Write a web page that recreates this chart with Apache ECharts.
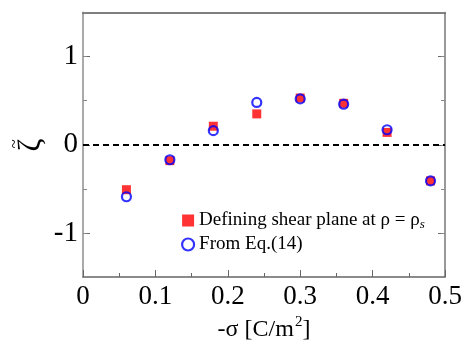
<!DOCTYPE html>
<html>
<head>
<meta charset="utf-8">
<script src="https://cdn.jsdelivr.net/npm/echarts@6/dist/echarts.min.js"></script>
<style>
html,body{margin:0;padding:0;background:#fff;}
#c{width:464px;height:348px;}
</style>
</head>
<body>
<div id="c"></div>
<script>
var sigma = [0.06, 0.12, 0.18, 0.24, 0.30, 0.36, 0.42, 0.48];
var zetaShear = [-0.51, -0.18, 0.21, 0.35, 0.53, 0.47, 0.14, -0.41];
var zetaEq14 = [-0.59, -0.17, 0.16, 0.48, 0.52, 0.46, 0.17, -0.41];
var yMajorTicks = [-1, 0, 1];
var seriesNames = ['Defining shear plane at ρ = ρs', 'From Eq.(14)'];

var FONT = '"Liberation Serif", "Times New Roman", serif';
var chart = echarts.init(document.getElementById('c'), null, {renderer: 'canvas'});

function pairs(xs, ys) { return xs.map(function (x, i) { return [x, ys[i]]; }); }

var yBase = {
  type: 'value', min: -1.5, max: 1.5, interval: 0.5,
  splitLine: {show: false}
};

var option = {
  animation: false,
  backgroundColor: '#fff',
  grid: {left: 83, right: 19, top: 12.5, bottom: 71, show: false, containLabel: false, outerBoundsMode: 'none'},
  graphic: [{
    type: 'group', x: 32, y: 145, rotation: Math.PI / 2,
    children: [
      {type: 'text', x: 0, y: 0, style: {text: 'ζ', fill: '#000', font: '31px ' + FONT, align: 'center', verticalAlign: 'middle'}},
      {type: 'text', x: 1, y: -17, style: {text: '~', fill: '#000', font: '17px ' + FONT, align: 'center', verticalAlign: 'middle'}}
    ]
  }],
  xAxis: [
    {
      type: 'value', min: 0, max: 0.5, interval: 0.1, position: 'bottom',
      splitLine: {show: false},
      axisLine: {show: true, onZero: false, lineStyle: {color: '#666', width: 1.5}},
      axisTick: {show: true, inside: true, length: 7, lineStyle: {color: '#666', width: 1}},
      minorTick: {show: true, splitNumber: 2, length: 4, lineStyle: {color: '#666', width: 1}},
      axisLabel: {color: '#000', fontFamily: FONT, fontSize: 27, margin: 6,
        formatter: function (v) { return String(Math.round(v * 10) / 10); }},
      name: '-σ [C/m{sup|2}]',
      nameLocation: 'middle', nameGap: 38,
      nameTextStyle: {color: '#000', fontFamily: FONT, fontSize: 24,
        rich: {sup: {fontFamily: FONT, fontSize: 15, verticalAlign: 'top', padding: [0, 0, 14, 1], color: '#000'}}}
    },
    {
      type: 'value', min: 0, max: 0.5, interval: 0.1, position: 'top',
      splitLine: {show: false},
      axisLine: {show: true, onZero: false, lineStyle: {color: '#555', width: 1.5}},
      axisTick: {show: false}, axisLabel: {show: false}
    }
  ],
  yAxis: [
    Object.assign({}, yBase, {
      position: 'left',
      axisLine: {show: true, onZero: false, lineStyle: {color: '#aaa', width: 2}},
      axisTick: {show: true, inside: true, length: 7, customValues: yMajorTicks, lineStyle: {color: '#666', width: 1}},
      axisLabel: {color: '#000', fontFamily: FONT, fontSize: 29, margin: 5, customValues: yMajorTicks,
        formatter: function (v) { return String(Math.round(v)); }}
    }),
    Object.assign({}, yBase, {
      position: 'left',
      axisLine: {show: false, onZero: false},
      axisTick: {show: true, inside: true, length: 4, lineStyle: {color: '#888', width: 1}},
      axisLabel: {show: false}
    }),
    Object.assign({}, yBase, {
      position: 'right',
      axisLine: {show: true, onZero: false, lineStyle: {color: '#777', width: 1.5}},
      axisTick: {show: true, inside: true, length: 7, customValues: yMajorTicks, lineStyle: {color: '#666', width: 1}},
      axisLabel: {show: false}
    }),
    Object.assign({}, yBase, {
      position: 'right',
      axisLine: {show: false, onZero: false},
      axisTick: {show: true, inside: true, length: 4, lineStyle: {color: '#888', width: 1}},
      axisLabel: {show: false}
    })
  ],
  legend: {
    orient: 'vertical', left: 176, top: 206, itemGap: 4,
    itemWidth: 12, itemHeight: 12,
    textStyle: {color: '#000', fontFamily: FONT, fontSize: 19,
      rich: {sub: {fontFamily: FONT, fontSize: 13, fontStyle: 'italic', verticalAlign: 'bottom', padding: [8, 0, 0, 0], color: '#000'}}},
    formatter: function (name) {
      if (name === seriesNames[0]) return 'Defining shear plane at ρ = ρ{sub|s}';
      return name;
    },
    data: [
      {name: seriesNames[0], icon: 'rect', itemStyle: {color: '#ff0000'}},
      {name: seriesNames[1], icon: 'circle', itemStyle: {color: 'rgba(0,0,0,0)', borderColor: '#0000ff', borderWidth: 2.2}}
    ]
  },
  series: [
    {
      name: seriesNames[0], type: 'scatter', xAxisIndex: 0, yAxisIndex: 0,
      symbol: 'rect', symbolSize: 9,
      itemStyle: {color: '#ff0000'},
      data: pairs(sigma, zetaShear),
      markLine: {
        silent: true, symbol: 'none', label: {show: false},
        lineStyle: {color: '#000', type: [6, 4], width: 1.8},
        data: [{yAxis: 0}]
      },
      z: 2
    },
    {
      name: seriesNames[1], type: 'scatter', xAxisIndex: 0, yAxisIndex: 0,
      symbol: 'circle', symbolSize: 9,
      itemStyle: {color: 'rgba(0,0,0,0)', borderColor: '#0000ff', borderWidth: 2.2},
      data: pairs(sigma, zetaEq14),
      z: 3
    }
  ]
};
chart.setOption(option);
</script>
</body>
</html>
